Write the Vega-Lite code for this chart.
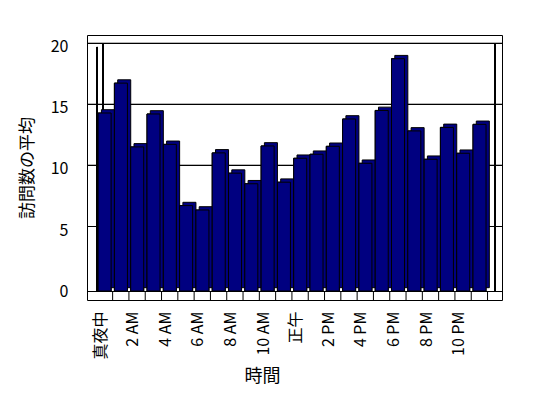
{
  "$schema": "https://vega.github.io/schema/vega-lite/v6.json",
  "width": 415,
  "height": 265,
  "autosize": {"type": "none"},
  "padding": {"left": 87, "top": 35, "right": 46, "bottom": 98},
  "background": "white",
  "config": {
    "font": "Noto Sans CJK JP",
    "view": {"stroke": "black", "strokeWidth": 1}
  },
  "data": {
    "values": [
      {"hour": "真夜中", "visits": 14.59},
      {"hour": "1 AM", "visits": 17.04},
      {"hour": "2 AM", "visits": 11.81},
      {"hour": "3 AM", "visits": 14.51},
      {"hour": "4 AM", "visits": 12.02},
      {"hour": "5 AM", "visits": 7.0},
      {"hour": "6 AM", "visits": 6.64},
      {"hour": "7 AM", "visits": 11.32},
      {"hour": "8 AM", "visits": 9.66},
      {"hour": "9 AM", "visits": 8.79},
      {"hour": "10 AM", "visits": 11.89},
      {"hour": "11 AM", "visits": 8.92},
      {"hour": "正午", "visits": 10.88},
      {"hour": "1 PM", "visits": 11.21},
      {"hour": "2 PM", "visits": 11.86},
      {"hour": "3 PM", "visits": 14.1},
      {"hour": "4 PM", "visits": 10.47},
      {"hour": "5 PM", "visits": 14.8},
      {"hour": "6 PM", "visits": 19.04},
      {"hour": "7 PM", "visits": 13.12},
      {"hour": "8 PM", "visits": 10.8},
      {"hour": "9 PM", "visits": 13.41},
      {"hour": "10 PM", "visits": 11.29},
      {"hour": "11 PM", "visits": 13.66}
    ]
  },
  "layer": [
    {
      "mark": {"type": "bar", "fill": "#000080", "stroke": "black", "strokeWidth": 1},
      "encoding": {
        "x": {
          "field": "hour",
          "type": "ordinal",
          "sort": null,
          "scale": {
            "domain": ["真夜中", "1 AM", "2 AM", "3 AM", "4 AM", "5 AM", "6 AM", "7 AM", "8 AM", "9 AM", "10 AM", "11 AM", "正午", "1 PM", "2 PM", "3 PM", "4 PM", "5 PM", "6 PM", "7 PM", "8 PM", "9 PM", "10 PM", "11 PM"],
            "paddingInner": 0.2,
            "paddingOuter": 0.83,
            "align": 0.41
          },
          "axis": {
            "title": "時間",
            "values": ["真夜中", "2 AM", "4 AM", "6 AM", "8 AM", "10 AM", "正午", "2 PM", "4 PM", "6 PM", "8 PM", "10 PM"],
            "labelAngle": -90,
            "ticks": false,
            "domain": false,
            "grid": false,
            "labelPadding": 11,
            "labelOffset": -4,
            "labelFontSize": 16,
            "labelColor": "black",
            "labelOverlap": false,
            "titleFontSize": 18,
            "titleFontWeight": "normal",
            "titleColor": "black",
            "titlePadding": 8,
            "titleX": 175
          }
        },
        "y": {
          "field": "visits",
          "type": "quantitative",
          "scale": {"domain": [-0.7377, 20.9836], "nice": false},
          "axis": {
            "title": "訪問数の平均",
            "values": [0, 5, 10, 15, 20],
            "ticks": false,
            "domain": false,
            "grid": false,
            "labelPadding": 19,
            "labelFontSize": 16,
            "labelColor": "black",
            "titleFontSize": 17,
            "titleFontWeight": "normal",
            "titleColor": "black",
            "titlePadding": 14
          }
        }
      }
    },
    {
      "mark": {"type": "rule", "stroke": "black", "strokeWidth": 1, "yOffset": -3.5},
      "encoding": {"y": {"datum": 5, "type": "quantitative"}}
    },
    {
      "mark": {"type": "rule", "stroke": "black", "strokeWidth": 1, "yOffset": -3.5},
      "encoding": {"y": {"datum": 10, "type": "quantitative"}}
    },
    {
      "mark": {"type": "rule", "stroke": "black", "strokeWidth": 1, "yOffset": -3.5},
      "encoding": {"y": {"datum": 15, "type": "quantitative"}}
    },
    {
      "mark": {"type": "rule", "stroke": "black", "strokeWidth": 1, "yOffset": -3.5},
      "encoding": {"y": {"datum": 20, "type": "quantitative"}}
    },
    {
      "mark": {"type": "rule", "stroke": "black", "strokeWidth": 1, "yOffset": 0.5},
      "encoding": {"y": {"datum": 0, "type": "quantitative"}}
    },
    {
      "mark": {"type": "rule", "stroke": "black", "strokeWidth": 1, "xOffset": -1},
      "encoding": {
        "x": {"datum": "真夜中", "type": "ordinal", "bandPosition": 0},
        "y": {"datum": 20, "type": "quantitative"},
        "y2": {"datum": 0}
      }
    },
    {
      "mark": {"type": "rule", "stroke": "black", "strokeWidth": 1, "xOffset": 5, "yOffset": -3.5},
      "encoding": {
        "x": {"datum": "真夜中", "type": "ordinal", "bandPosition": 0},
        "y": {"datum": 20, "type": "quantitative"},
        "y2": {"datum": 0}
      }
    },
    {
      "mark": {"type": "rule", "stroke": "black", "strokeWidth": 1, "xOffset": 9, "yOffset": -3.5},
      "encoding": {
        "x": {"datum": "11 PM", "type": "ordinal", "bandPosition": 1},
        "y": {"datum": 20, "type": "quantitative"},
        "y2": {"datum": 0}
      }
    },
    {
      "mark": {"type": "rule", "stroke": "black", "strokeWidth": 1, "xOffset": 1.5},
      "encoding": {
        "x": {"field": "hour", "type": "ordinal", "sort": null, "bandPosition": 1},
        "y": {"datum": 0, "type": "quantitative"},
        "y2": {"datum": -0.7377}
      }
    },
    {
      "mark": {"type": "bar", "fill": "#000080", "stroke": "black", "strokeWidth": 1, "xOffset": 3.3, "yOffset": -3.3},
      "encoding": {
        "x": {"field": "hour", "type": "ordinal", "sort": null},
        "y": {"field": "visits", "type": "quantitative"}
      }
    },
    {
      "mark": {"type": "bar", "fill": "#000080", "stroke": "black", "strokeWidth": 1},
      "encoding": {
        "x": {"field": "hour", "type": "ordinal", "sort": null},
        "y": {"field": "visits", "type": "quantitative"}
      }
    }
  ]
}
